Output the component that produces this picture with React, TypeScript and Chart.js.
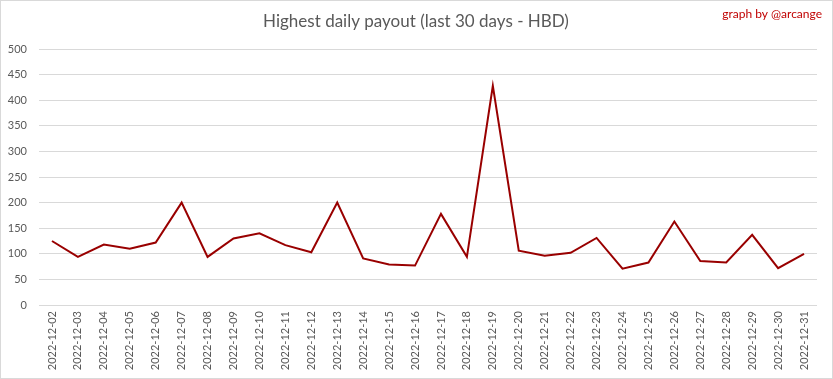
import React, { useEffect, useRef } from "react";
import { Chart, registerables } from "chart.js";

Chart.register(...registerables);

const dates = [
  "2022-12-02", "2022-12-03", "2022-12-04", "2022-12-05", "2022-12-06", "2022-12-07",
  "2022-12-08", "2022-12-09", "2022-12-10", "2022-12-11", "2022-12-12", "2022-12-13",
  "2022-12-14", "2022-12-15", "2022-12-16", "2022-12-17", "2022-12-18", "2022-12-19",
  "2022-12-20", "2022-12-21", "2022-12-22", "2022-12-23", "2022-12-24", "2022-12-25",
  "2022-12-26", "2022-12-27", "2022-12-28", "2022-12-29", "2022-12-30", "2022-12-31",
];
const payouts = [
  125, 94, 118, 110, 122, 200, 94, 130, 140, 117, 103, 200, 91, 79, 77,
  178, 94, 428, 106, 96, 102, 131, 71, 83, 163, 86, 83, 137, 72, 100,
];
const titleText = "Highest daily payout (last 30 days - HBD)";
const creditText = "graph by @arcange";

const FONT = "Lato, 'Open Sans', sans-serif";

const decorPlugin = {
  id: "decor",
  beforeDraw(chart: any) {
    const { ctx, width, height } = chart;
    ctx.save();
    ctx.fillStyle = "#ffffff";
    ctx.fillRect(0, 0, width, height);
    ctx.strokeStyle = "#d9d9d9";
    ctx.lineWidth = 1;
    ctx.strokeRect(0.5, 0.5, width - 1, height - 1);
    ctx.restore();
  },
  afterDraw(chart: any) {
    const { ctx } = chart;
    ctx.save();
    ctx.textBaseline = "middle";
    ctx.textAlign = "center";
    ctx.fillStyle = "#595959";
    ctx.font = `17px ${FONT}`;
    ctx.fillText(titleText, 416, 22);
    ctx.textAlign = "right";
    ctx.fillStyle = "#c00000";
    ctx.font = `12px ${FONT}`;
    ctx.fillText(creditText, 822, 14);
    ctx.restore();
  },
};

export default function App() {
  const ref = useRef<HTMLCanvasElement>(null);
  useEffect(() => {
    document.body.style.margin = "0";
    const chart = new Chart(ref.current!, {
      type: "line",
      data: {
        labels: dates,
        datasets: [
          {
            data: payouts,
            borderColor: "#990000",
            borderWidth: 2,
            pointRadius: 0,
            tension: 0,
            fill: false,
          },
        ],
      },
      options: {
        animation: false,
        responsive: false,
        layout: { padding: { left: 0, right: 16, top: 49, bottom: 0 } },
        plugins: { legend: { display: false }, tooltip: { enabled: false }, title: { display: false } },
        scales: {
          x: {
            type: "category",
            offset: true,
            grid: { display: false, drawTicks: false },
            border: { display: false },
            ticks: {
              minRotation: 90,
              maxRotation: 90,
              autoSkip: false,
              padding: 6,
              color: "#595959",
              font: { family: FONT, size: 11 },
            },
            afterFit(scale: any) {
              scale.height = 74;
            },
          },
          y: {
            min: 0,
            max: 500,
            grid: { color: "#d9d9d9", drawTicks: false, lineWidth: 1 },
            border: { display: false },
            ticks: {
              stepSize: 50,
              padding: 12,
              color: "#595959",
              font: { family: FONT, size: 11 },
            },
            afterFit(scale: any) {
              scale.width = 39;
            },
          },
        },
      },
      plugins: [decorPlugin],
    });
    return () => chart.destroy();
  }, []);
  return (
    <div style={{ width: 833, height: 379 }}>
      <canvas ref={ref} width={833} height={379} style={{ display: "block" }} />
    </div>
  );
}
